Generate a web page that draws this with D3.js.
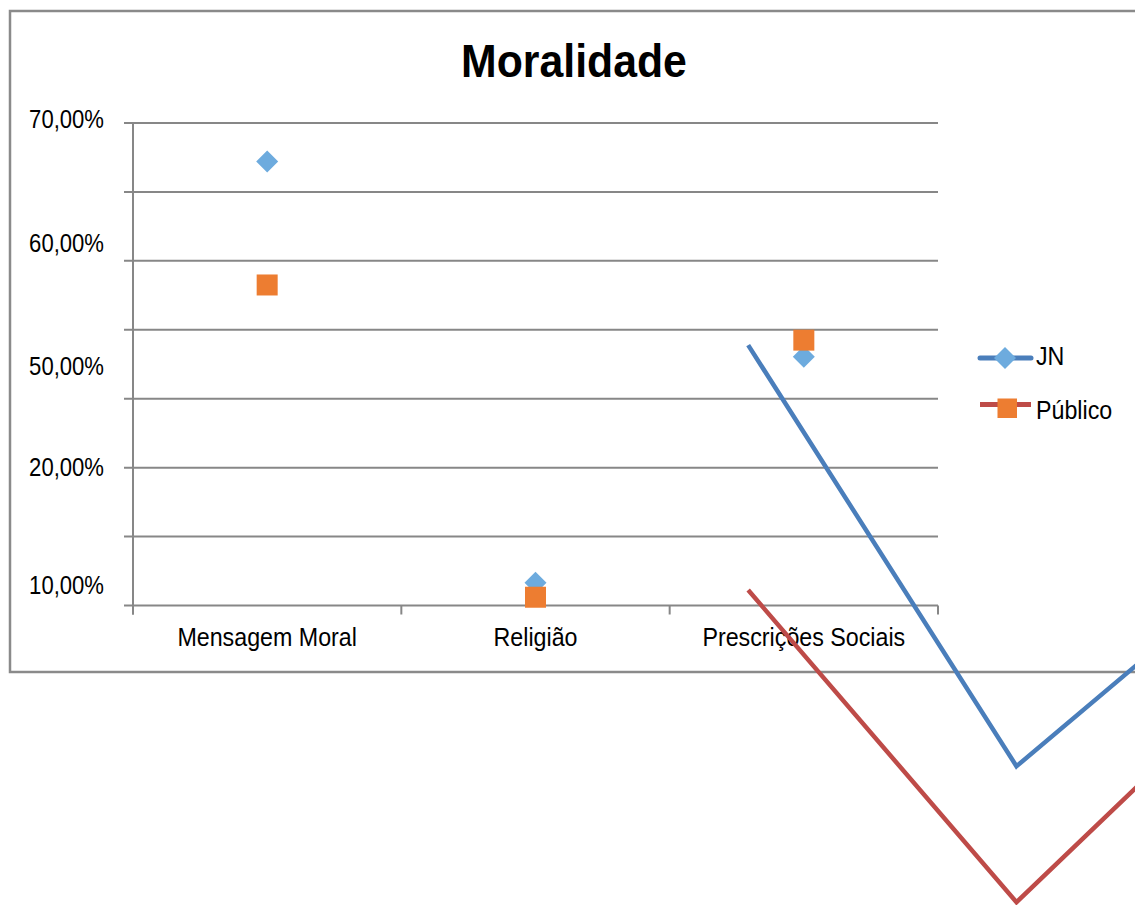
<!DOCTYPE html>
<html>
<head>
<meta charset="utf-8">
<script src="https://cdn.jsdelivr.net/npm/d3@7"></script>
<style>
  html, body { margin: 0; padding: 0; background: #fff; }
  svg { display: block; }
  text { font-family: "Liberation Sans", Arial, sans-serif; fill: #000; }
</style>
</head>
<body>
<svg id="chart" width="1135" height="905"></svg>
<script>
const title = "Moralidade";
const categories = ["Mensagem Moral", "Religião", "Prescrições Sociais"];
const seriesNames = ["JN", "Público"];
const jnValues = [64.4, 3.3, 36.1];
const publicoValues = [46.5, 1.2, 38.5];
const gridValues = [0, 10, 20, 30, 40, 50, 60, 70];
const tickLabels = ["70,00%", "60,00%", "50,00%", "20,00%", "10,00%"];
const tickLabelAt = [70.7, 52.7, 34.8, 20.2, 3.0];

const svg = d3.select("#chart");

const plotLeft = 133, plotRight = 938, plotTop = 123, plotBottom = 605.5;
const x = d3.scaleBand().domain(categories).range([plotLeft, plotRight]);
const y = d3.scaleLinear().domain([0, 70]).range([plotBottom, plotTop]);
const xc = d => x(d) + x.bandwidth() / 2;

const gridColor = "#878787";
const colors = {
  jnLine: "#4A7EBB", jnMarker: "#6DABDE",
  pubLine: "#BE4B48", pubMarker: "#ED7D31"
};

// chart frame
svg.append("rect")
  .attr("x", 10).attr("y", 11)
  .attr("width", 1300).attr("height", 661)
  .attr("fill", "none").attr("stroke", "#8a8a8a").attr("stroke-width", 2.5);

// title
svg.append("text")
  .attr("transform", "translate(574,77) scale(0.93,1)")
  .attr("text-anchor", "middle")
  .attr("font-size", 46).attr("font-weight", "bold")
  .text(title);

// gridlines
svg.append("g").selectAll("line").data(gridValues).join("line")
  .attr("x1", plotLeft - 9).attr("x2", plotRight)
  .attr("y1", d => y(d)).attr("y2", d => y(d))
  .attr("stroke", gridColor).attr("stroke-width", 2);

// vertical axis line
svg.append("line")
  .attr("x1", plotLeft).attr("x2", plotLeft)
  .attr("y1", y(70)).attr("y2", plotBottom + 9)
  .attr("stroke", gridColor).attr("stroke-width", 2);

// x-axis tick marks at band boundaries
const boundaries = categories.map(c => x(c)).concat([x(categories[categories.length - 1]) + x.bandwidth()]);
svg.append("g").selectAll("line").data(boundaries).join("line")
  .attr("x1", d => d).attr("x2", d => d)
  .attr("y1", plotBottom).attr("y2", plotBottom + 9)
  .attr("stroke", gridColor).attr("stroke-width", 2);

// y tick labels
svg.append("g").selectAll("text").data(tickLabels).join("text")
  .attr("transform", (d, i) => `translate(104,${y(tickLabelAt[i]) + 9.5}) scale(0.85,1)`)
  .attr("text-anchor", "end")
  .attr("font-size", 26)
  .text(d => d);

// category labels
svg.append("g").selectAll("text").data(categories).join("text")
  .attr("transform", d => `translate(${xc(d)},646) scale(0.93,1)`)
  .attr("text-anchor", "middle")
  .attr("font-size", 25)
  .text(d => d);

// markers
const diamond = (cx, cy, r) => `M${cx},${cy - r}L${cx + r},${cy}L${cx},${cy + r}L${cx - r},${cy}Z`;
svg.append("g").selectAll("path").data(jnValues).join("path")
  .attr("d", (d, i) => diamond(xc(categories[i]), y(d), 11))
  .attr("fill", colors.jnMarker);
svg.append("g").selectAll("rect").data(publicoValues).join("rect")
  .attr("x", (d, i) => xc(categories[i]) - 10.5)
  .attr("y", d => y(d) - 10.5)
  .attr("width", 21).attr("height", 21)
  .attr("fill", colors.pubMarker);

// legend
const lg = svg.append("g");
lg.append("line").attr("x1", 980).attr("x2", 1031).attr("y1", 358).attr("y2", 358)
  .attr("stroke", colors.jnLine).attr("stroke-width", 5).attr("stroke-linecap", "round");
lg.append("path").attr("d", diamond(1005, 358, 11)).attr("fill", colors.jnMarker);
lg.append("text").attr("transform", "translate(1036,365) scale(0.93,1)")
  .attr("font-size", 25).text(seriesNames[0]);
lg.append("line").attr("x1", 980).attr("x2", 1031).attr("y1", 404.5).attr("y2", 404.5)
  .attr("stroke", colors.pubLine).attr("stroke-width", 5);
lg.append("rect").attr("x", 997.5).attr("y", 398.5).attr("width", 19.5).attr("height", 19.5)
  .attr("fill", colors.pubMarker);
lg.append("text").attr("transform", "translate(1036,419) scale(0.93,1)")
  .attr("font-size", 25).text(seriesNames[1]);

// stray series lines (displaced, as in the original rendering)
const line = d3.line().x((d, i) => xc(categories[i])).y(d => y(d));
svg.append("path")
  .datum(jnValues)
  .attr("transform", "translate(481,183.5)")
  .attr("d", line)
  .attr("fill", "none").attr("stroke", colors.jnLine).attr("stroke-width", 4.5);
svg.append("path")
  .datum(publicoValues)
  .attr("transform", "translate(481,305)")
  .attr("d", line)
  .attr("fill", "none").attr("stroke", colors.pubLine).attr("stroke-width", 4.5);
</script>
</body>
</html>
